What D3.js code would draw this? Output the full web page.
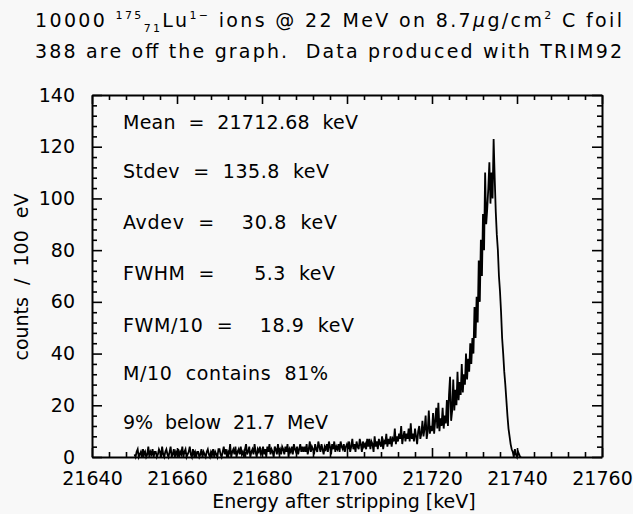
<!DOCTYPE html>
<html><head><meta charset="utf-8">
<script src="https://cdn.jsdelivr.net/npm/d3@7/dist/d3.min.js"></script>
<style>
body{margin:0;background:#f8f8f8}
svg{display:block;font-family:"DejaVu Sans",sans-serif}
text{white-space:pre}
</style>
</head><body>
<script>
// ---- data ----
const energyStart = 21650.0;   // keV, first bin
const energyStep = 0.25;       // keV per plotted point
const counts = [
  1,0,2,3,0,1,2,0,3,1,2,0,1,4,0,2,1,3,0,2,
  2,0,1,3,2,0,4,1,0,2,3,1,0,2,4,0,1,3,0,2,
  1,3,0,2,1,4,0,2,3,0,1,2,4,1,0,3,1,2,0,2,
  2,0,1,3,0,2,1,0,2,3,1,0,2,1,3,0,2,1,0,3,
  3,1,0,2,4,1,3,0,2,1,5,0,2,3,1,4,0,2,3,1,
  4,1,2,0,3,5,1,2,4,0,2,3,1,5,2,0,3,2,4,1,
  2,4,1,3,0,4,2,5,1,3,2,0,4,3,1,5,2,3,1,4,
  3,1,4,2,5,0,3,2,4,1,5,3,2,4,1,3,5,2,4,2,
  4,2,5,1,3,6,2,4,3,1,5,3,2,6,4,2,5,3,1,4,
  3,5,2,6,4,1,5,3,6,2,4,3,5,2,6,4,3,5,2,4,
  5,3,6,2,4,7,3,5,2,6,4,3,7,5,2,6,4,5,3,7,
  4,7,3,6,5,2,8,4,6,3,7,5,4,8,3,6,5,9,4,7,
  5,8,4,7,6,11,5,8,6,9,7,12,5,8,10,6,9,7,11,6,
  13,7,9,6,11,8,5,10,12,7,9,14,8,11,16,7,10,18,9,12,
  10,17,9,14,19,11,21,10,15,12,19,11,16,13,22,12,24,31,14,18,
  30,18,26,20,33,22,29,24,36,25,32,28,40,30,38,33,44,36,46,40,
  58,46,62,52,76,60,84,70,94,80,110,90,96,104,114,98,110,100,123,108,
  95,86,80,70,64,56,46,40,33,28,22,16,11,8,5,3,2,0,3,1,
  0,2,1,0,0
];
const xTicks = [21640,21660,21680,21700,21720,21740,21760];
const yTicks = [0,20,40,60,80,100,120,140];
const statLabels = [
  "Mean  =  21712.68  keV",
  "Stdev  =  135.8  keV",
  "Avdev  =    30.8  keV",
  "FWHM  =      5.3  keV",
  "FWM/10  =    18.9  keV",
  "M/10  contains  81%",
  "9%  below  21.7  MeV"
];
const titleLine2 = "388 are off the graph.  Data produced with TRIM92";
const xTitle = "Energy after stripping [keV]";
const yTitle = "counts  /  100  eV";

// ---- layout ----
const W = 633, H = 514;
const L = 92, R = 602, T = 95, B = 457;
const statBaselines = [129, 177.5, 228.5, 280, 331.5, 380, 428.5];
const statWidths = [235, 206, 214, 212, 231, 205, 205];

const svg = d3.select("body").append("svg").attr("width", W).attr("height", H);
svg.append("rect").attr("width", W).attr("height", H).attr("fill", "#f8f8f8");

const x = d3.scaleLinear().domain([21640, 21760]).range([L, R]);
const y = d3.scaleLinear().domain([0, 140]).range([B, T]);

const data = counts.map((c, i) => ({e: energyStart + i * energyStep, c}));

// spectrum
svg.append("path").datum(data)
  .attr("fill", "none").attr("stroke", "#000").attr("stroke-width", 1.8)
  .attr("stroke-linejoin", "miter")
  .attr("d", d3.line().x(d => x(d.e)).y(d => y(d.c)));

// axes helpers
const xMinor = d3.range(21640, 21761, 4).filter(v => !xTicks.includes(v));
const yMinor = d3.range(0, 141, 4).filter(v => !yTicks.includes(v));
const fontSize = 19;

function styleAxis(g) {
  g.selectAll(".domain").attr("stroke", "#000").attr("stroke-width", 2);
  g.selectAll(".tick line").attr("stroke", "#000").attr("stroke-width", 1.6);
  g.selectAll("text").attr("fill", "#000").style("font-family", '"DejaVu Sans",sans-serif').style("font-size", fontSize + "px");
}

// bottom
svg.append("g").attr("transform", `translate(0,${B})`)
  .call(d3.axisBottom(x).tickValues(xTicks).tickSizeInner(-9).tickSizeOuter(0).tickPadding(14.5).tickFormat(d3.format("d")))
  .call(styleAxis);
svg.append("g").attr("transform", `translate(0,${B})`)
  .call(d3.axisBottom(x).tickValues(xMinor).tickSizeInner(-5).tickSizeOuter(0).tickFormat(""))
  .call(styleAxis).select(".domain").remove();
// top
svg.append("g").attr("transform", `translate(0,${T})`)
  .call(d3.axisTop(x).tickValues(xTicks).tickSizeInner(-9).tickSizeOuter(0).tickFormat(""))
  .call(styleAxis);
svg.append("g").attr("transform", `translate(0,${T})`)
  .call(d3.axisTop(x).tickValues(xMinor).tickSizeInner(-5).tickSizeOuter(0).tickFormat(""))
  .call(styleAxis).select(".domain").remove();
// left
svg.append("g").attr("transform", `translate(${L},0)`)
  .call(d3.axisLeft(y).tickValues(yTicks).tickSizeInner(-10).tickSizeOuter(0).tickPadding(17))
  .call(styleAxis);
svg.append("g").attr("transform", `translate(${L},0)`)
  .call(d3.axisLeft(y).tickValues(yMinor).tickSizeInner(-5).tickSizeOuter(0).tickFormat(""))
  .call(styleAxis).select(".domain").remove();
// right
svg.append("g").attr("transform", `translate(${R},0)`)
  .call(d3.axisRight(y).tickValues(yTicks).tickSizeInner(-10).tickSizeOuter(0).tickFormat(""))
  .call(styleAxis);
svg.append("g").attr("transform", `translate(${R},0)`)
  .call(d3.axisRight(y).tickValues(yMinor).tickSizeInner(-5).tickSizeOuter(0).tickFormat(""))
  .call(styleAxis).select(".domain").remove();

// stats text
svg.append("g").selectAll("text").data(statLabels).join("text")
  .attr("x", 123).attr("y", (d, i) => statBaselines[i])
  .attr("textLength", (d, i) => statWidths[i]).attr("lengthAdjust", "spacing")
  .style("font-size", fontSize + "px").attr("fill", "#000")
  .text(d => d);

// axis titles
svg.append("text").attr("x", (L + R) / 2 - 3).attr("y", 508).attr("text-anchor", "middle")
  .style("font-size", "19px").text(xTitle);
svg.append("text").attr("transform", `translate(28,${(T + B) / 2 + 1}) rotate(-90)`)
  .attr("text-anchor", "middle").style("font-size", fontSize + "px").text(yTitle);

// title line 1 with sub/superscripts
const t1 = svg.append("text").attr("x", 35).attr("y", 27)
  .attr("textLength", 587).attr("lengthAdjust", "spacing")
  .style("font-size", fontSize + "px");
const parts = [
  {t: "10000 ", s: 19, dy: 0},
  {t: "175", s: 11, dy: -8},
  {t: "71", s: 11, dy: 13},
  {t: "Lu", s: 19, dy: -5},
  {t: "1\u2212", s: 11, dy: -8},
  {t: " ions @ 22 MeV on 8.7", s: 19, dy: 8},
  {t: "\u03bc", s: 19, dy: 0, it: true},
  {t: "g/cm", s: 19, dy: 0},
  {t: "2", s: 11, dy: -8},
  {t: " C foil", s: 19, dy: 8}
];
parts.forEach(p => {
  t1.append("tspan").attr("dy", p.dy).style("font-size", p.s + "px")
    .style("font-style", p.it ? "italic" : "normal").text(p.t);
});
svg.append("text").attr("x", 35).attr("y", 58)
  .attr("textLength", 587).attr("lengthAdjust", "spacing")
  .style("font-size", fontSize + "px").text(titleLine2);
</script>
</body></html>
